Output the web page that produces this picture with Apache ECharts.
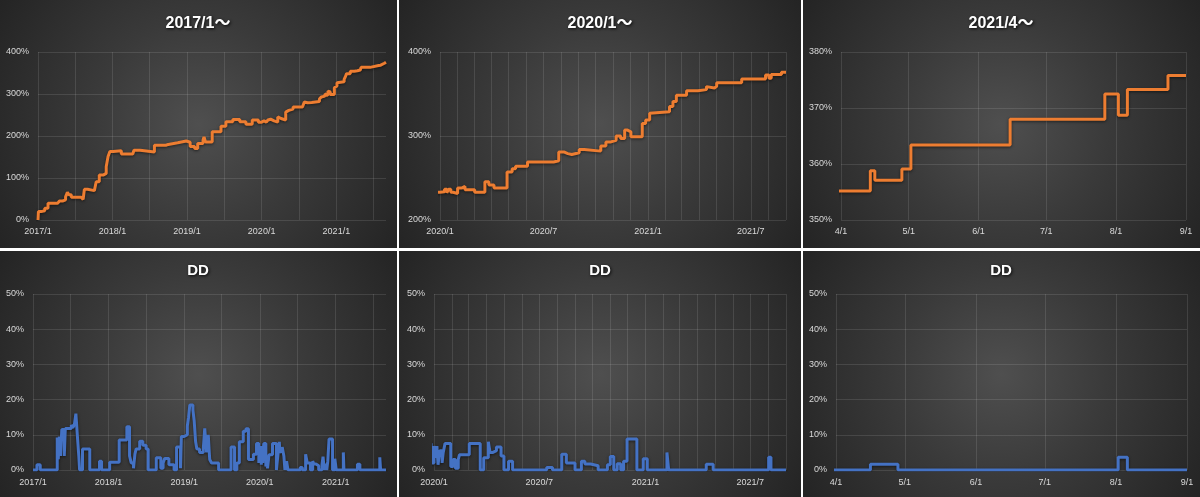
<!DOCTYPE html>
<html><head><meta charset="utf-8">
<script src="https://cdn.jsdelivr.net/npm/echarts@6/dist/echarts.min.js"></script>
<style>
html,body{margin:0;padding:0;background:#ffffff;}
#wrap{position:relative;width:1200px;height:497px;overflow:hidden;}
.bg{position:absolute;background:radial-gradient(circle farthest-corner at 50% 50%, #4f4f4f 0%, #3a3a3a 45%, #242424 100%);}
#chart{position:absolute;left:0;top:0;width:1200px;height:497px;}
</style></head><body>
<div id="wrap">
<div class="bg" style="left:0;top:0;width:397px;height:248px"></div>
<div class="bg" style="left:399px;top:0;width:402px;height:248px"></div>
<div class="bg" style="left:803px;top:0;width:397px;height:248px"></div>
<div class="bg" style="left:0;top:251px;width:397px;height:246px"></div>
<div class="bg" style="left:399px;top:251px;width:402px;height:246px"></div>
<div class="bg" style="left:803px;top:251px;width:397px;height:246px"></div>
<div id="chart"></div>
</div>
<script>
// ---- data ----
const titles = ['2017/1～', '2020/1～', '2021/4～', 'DD', 'DD', 'DD'];

// cumulative return (%), step series: value holds from date until next date
const eqDates = [
 '2017-01-01','2017-01-03','2017-01-16','2017-02-03','2017-02-19','2017-04-07','2017-04-16','2017-05-01',
 '2017-05-16','2017-05-25','2017-06-01','2017-06-13','2017-08-01','2017-08-10','2017-08-16','2017-09-01',
 '2017-10-04','2017-10-13','2017-10-28','2017-11-16','2017-12-01','2017-12-10','2017-12-19',
 '2018-01-04','2018-02-13','2018-04-10','2018-04-16','2018-05-16','2018-07-25','2018-09-19','2018-10-01',
 '2018-11-16','2018-12-28',
 '2019-01-16','2019-02-07','2019-02-22','2019-03-20','2019-03-25','2019-04-01','2019-05-04','2019-06-16',
 '2019-07-10','2019-08-13','2019-09-16','2019-10-16','2019-11-16','2019-12-16',
 '2020-01-01','2020-01-09','2020-01-13','2020-01-16','2020-01-20','2020-01-24','2020-02-01','2020-02-08',
 '2020-02-14','2020-03-02','2020-03-20','2020-03-27','2020-04-05','2020-04-28','2020-05-07','2020-05-13',
 '2020-06-03','2020-07-19','2020-07-28','2020-08-06','2020-08-13','2020-08-20','2020-09-02','2020-09-11',
 '2020-10-10','2020-10-19','2020-10-28','2020-11-06','2020-11-14','2020-11-21','2020-11-26','2020-12-02',
 '2020-12-22','2020-12-28',
 '2021-01-04','2021-01-06','2021-02-08','2021-02-14','2021-02-20','2021-03-10',
 '2021-03-30','2021-04-14','2021-04-16','2021-04-28','2021-05-02','2021-06-15','2021-07-27','2021-08-02',
 '2021-08-06','2021-08-24','2021-09-01'
];
const eqValues = [
 0,20,22,28,40,41,45,48,
 55,66,60,54,52,49,73,70,
 72,91,107,111,127,151,163,
 165,157,155,166,162,178,180,184,
 188,185,
 175,170,182,190,198,186,210,223,
 234,239,234,228,238,233,
 233.7,236.5,232.5,236.5,233,231.5,238,240,
 236,233,245.5,241.6,238,257,261,264,
 269,270.5,281,279,278,280,284,282,
 288,293,295,300,297,307,305,299,
 315,319,
 327,329,335,341,348.5,354,
 355.2,358.8,357.1,359.1,363.4,368.0,372.5,368.7,
 373.3,375.8,375.8
];

// drawdown (%), step series
const ddDates = [
 '2017-01-01','2017-01-20','2017-02-05','2017-04-28','2017-05-03','2017-05-08','2017-05-14','2017-05-20',
 '2017-06-01','2017-06-06','2017-07-05','2017-07-12','2017-07-20','2017-07-27','2017-08-04','2017-08-10',
 '2017-08-14','2017-08-28','2017-10-02','2017-11-18','2017-11-28',
 '2018-01-06','2018-02-21','2018-03-30','2018-04-12','2018-04-20','2018-05-01','2018-05-08','2018-05-14',
 '2018-05-31','2018-06-15','2018-07-01','2018-07-11','2018-08-19','2018-09-10','2018-09-21','2018-09-29',
 '2018-10-19','2018-11-13','2018-11-25','2018-12-14','2018-12-18',
 '2019-01-01','2019-01-16','2019-01-22','2019-01-28','2019-02-12','2019-02-18','2019-02-25','2019-03-03',
 '2019-03-16','2019-04-03','2019-04-10','2019-04-19','2019-04-27','2019-05-04','2019-05-13','2019-06-16',
 '2019-08-15','2019-09-01','2019-09-12','2019-09-24','2019-10-13','2019-10-26','2019-11-07','2019-12-01',
 '2019-12-16','2019-12-27',
 '2020-01-01','2020-01-04','2020-01-06','2020-01-08','2020-01-11','2020-01-15','2020-01-17','2020-01-20',
 '2020-01-30','2020-02-03','2020-02-07','2020-02-12','2020-02-14','2020-03-02','2020-03-21','2020-03-27',
 '2020-04-04','2020-04-07','2020-04-12','2020-04-18','2020-04-26','2020-05-01','2020-05-09','2020-05-16',
 '2020-07-14','2020-07-24','2020-08-09','2020-08-17','2020-09-01','2020-09-12','2020-09-18','2020-09-28',
 '2020-10-11','2020-10-27','2020-11-01','2020-11-07','2020-11-13','2020-11-19','2020-11-24','2020-11-30',
 '2020-12-17','2020-12-28',
 '2021-01-04','2021-02-07','2021-02-10','2021-04-16','2021-04-28','2021-08-02','2021-08-06','2021-09-01'
];
const ddValues = [
 0,1.5,0,9.2,3,9.5,4,11.5,
 4,11.8,12.8,12,13,16,9,4,
 0,6,0,2.5,0,
 2.2,8.5,12.3,4,2,0.5,4.5,6,
 8.2,7,6,0,3.5,0.5,2,3.3,
 1.5,0,6.5,0.5,9.5,
 10,12.5,15,18.5,17,14,8,6,
 5,6,11.8,5,10,3,2,0,
 6.5,0,2,8,11,11.7,3,4.5,
 7.5,2,
 6.8,3.5,6.8,1.5,5.5,2,5,7.5,
 1,3,0.5,3,4.3,7.5,0,3.5,
 8,5,5.5,6.5,4,0,2.5,0,
 0.7,0,4.5,2,0,2.5,1.7,1.2,
 0,1.5,3.8,0,1.8,0,2.5,8.8,
 0,3.2,
 0,5,0,1.6,0,3.6,0,0
];

const xStarts = ['2017-01-01', '2020-01-01', '2021-04-01'];
const xEnd = '2021-09-01';
const yMins = [0, 200, 350];
const yMaxs = [400, 400, 380];
const yIntervals = [100, 100, 10];
const ddMin = 0, ddMax = 50, ddInterval = 10;

// ---- helpers ----
const ts = s => { const p = s.split('-').map(Number); return Date.UTC(p[0], p[1] - 1, p[2]); };
function monthStarts(y0, m0, y1, m1, step) {
  const out = []; let y = y0, m = m0;
  while (y < y1 || (y === y1 && m <= m1)) { out.push(Date.UTC(y, m - 1, 1)); m += step; while (m > 12) { m -= 12; y++; } }
  return out;
}
const fmtYM = v => { const d = new Date(v); return d.getUTCFullYear() + '/' + (d.getUTCMonth() + 1); };
const fmtMD = v => { const d = new Date(v); return (d.getUTCMonth() + 1) + '/' + d.getUTCDate(); };

const eqData = eqDates.map((d, i) => [ts(d), eqValues[i]]);
const ddData = ddDates.map((d, i) => [ts(d), ddValues[i]]);

const tickSets = [
  { ticks: monthStarts(2017, 1, 2021, 9, 6), labels: monthStarts(2017, 1, 2021, 9, 12), fmt: fmtYM },
  { ticks: monthStarts(2020, 1, 2021, 9, 1), labels: monthStarts(2020, 1, 2021, 9, 6), fmt: fmtYM },
  { ticks: monthStarts(2021, 4, 2021, 9, 1), labels: monthStarts(2021, 4, 2021, 9, 1), fmt: fmtMD }
];

const grids = [
  { left: 38, top: 52, width: 348, height: 168 },
  { left: 440, top: 52, width: 346, height: 168 },
  { left: 841, top: 52, width: 345, height: 168 },
  { left: 33, top: 294, width: 353, height: 176 },
  { left: 434, top: 294, width: 352, height: 176 },
  { left: 836, top: 294, width: 351, height: 176 }
];
const titlePos = [
  { left: 198, top: 16, size: 16 }, { left: 600, top: 16, size: 16 }, { left: 1001, top: 16, size: 16 },
  { left: 198, top: 263, size: 15 }, { left: 600, top: 263, size: 15 }, { left: 1001, top: 263, size: 15 }
];

const FONT = '"Liberation Sans", Arial, "Noto Sans CJK JP", sans-serif';
const labelColor = '#d9d9d9';
const gridColor = 'rgba(255,255,255,0.11)';

const xAxes = [], yAxes = [], series = [], titleOpts = [];
for (let i = 0; i < 6; i++) {
  const col = i % 3, isDD = i >= 3;
  const tset = tickSets[col];
  xAxes.push({
    type: 'value', gridIndex: i, min: ts(xStarts[col]), max: ts(xEnd),
    axisLine: { show: false }, axisTick: { show: false, customValues: tset.ticks },
    axisLabel: { customValues: tset.labels, formatter: tset.fmt, color: labelColor, fontSize: 9, fontFamily: FONT, margin: isDD ? 8 : 7 },
    splitLine: { show: true, lineStyle: { color: gridColor, width: 1 } }
  });
  yAxes.push({
    type: 'value', gridIndex: i,
    min: isDD ? ddMin : yMins[col], max: isDD ? ddMax : yMaxs[col], interval: isDD ? ddInterval : yIntervals[col],
    axisLine: { show: false }, axisTick: { show: false },
    axisLabel: { formatter: '{value}%', color: labelColor, fontSize: 9, fontFamily: FONT, margin: 9 },
    splitLine: { show: true, lineStyle: { color: gridColor, width: 1 } }
  });
  series.push({
    type: 'line', xAxisIndex: i, yAxisIndex: i, data: isDD ? ddData : eqData, step: 'end',
    symbol: 'none', clip: true, silent: true,
    lineStyle: { color: isDD ? '#4472C4' : '#ED7D31', width: 3, shadowColor: 'rgba(0,0,0,0.55)', shadowBlur: 3, shadowOffsetY: 1 }
  });
  titleOpts.push({
    text: titles[i], left: titlePos[i].left, top: titlePos[i].top, textAlign: 'center', padding: 0,
    textStyle: { color: '#ffffff', fontSize: titlePos[i].size, fontWeight: 'bold', fontFamily: FONT,
      textShadowColor: 'rgba(0,0,0,0.85)', textShadowBlur: 3, textShadowOffsetX: 1, textShadowOffsetY: 1 }
  });
}

const chart = echarts.init(document.getElementById('chart'), null, { renderer: 'canvas' });
chart.setOption({
  backgroundColor: 'transparent',
  animation: false,
  title: titleOpts,
  grid: grids,
  xAxis: xAxes,
  yAxis: yAxes,
  series: series
});
</script>
</body></html>
